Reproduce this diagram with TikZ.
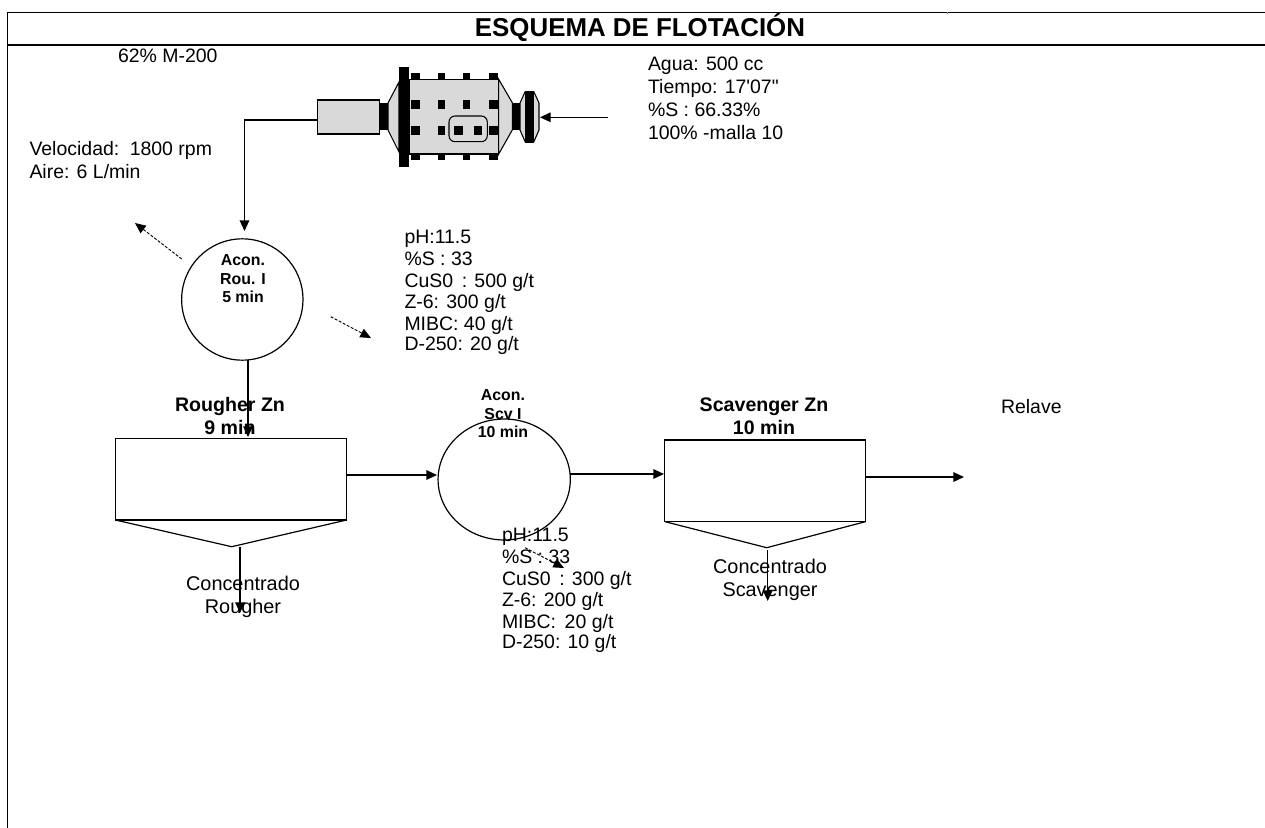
\documentclass[tikz,border=0pt]{standalone}
\usepackage{fontspec}
\setmainfont{Liberation Sans}
\newfontfamily\plainf{Liberation Sans}
\usetikzlibrary{arrows.meta,shapes.geometric}
\definecolor{millgray}{HTML}{D9D9D9}
\tikzset{
  flow/.style={draw=black,line width=1pt,-{Triangle[length=8pt,width=7.2pt]}},
  dashflow/.style={draw=black,line width=0.7pt,dash pattern=on 2.2pt off 1.2pt,-{Triangle[length=8pt,width=7pt]}},
  plain/.style={draw=black,line width=0.9pt},
  lbl/.style={inner sep=0pt,outer sep=0pt,anchor=north west,align=left,font=\fontsize{14.6pt}{16.4pt}\selectfont},
  lblq/.style={lbl,font=\fontsize{14.6pt}{17.2pt}\selectfont},
  lblc/.style={inner sep=0pt,outer sep=0pt,anchor=north,align=center,font=\fontsize{14.9pt}{17.2pt}\selectfont},
  lblb/.style={inner sep=0pt,outer sep=0pt,anchor=north,align=center,font=\fontsize{14.7pt}{17.2pt}\selectfont\bfseries},
  lbls/.style={inner sep=0pt,outer sep=0pt,anchor=north,align=center,font=\fontsize{11.9pt}{13.9pt}\selectfont\bfseries},
  tank/.style={draw=black,line width=0.95pt,fill=none,inner sep=0pt,outer sep=0pt},
  tankcirc/.style={draw=black,line width=0.9pt,ellipse,inner sep=0pt,outer sep=0pt},
  blk/.style={fill=black,draw=none},
  millpart/.style={fill=millgray,draw=black,line width=0.8pt},
}
\begin{document}
\begin{tikzpicture}[x=0.75pt,y=-0.75pt]
\useasboundingbox (0,0) rectangle (1265,828);
\fill[white] (0,0) rectangle (1265,828);
% frame
\draw[black,line width=0.9pt] (1265,12.3) -- (7.3,12.3) -- (7.3,828);
\draw[black,line width=2pt] (7.3,45) -- (1265,45);
\fill[gray] (946.5,11.5) rectangle (948,13.5);
\node[inner sep=0pt,anchor=center,font=\fontsize{19.4pt}{22pt}\selectfont\bfseries] (title) at (640,28) {ESQUEMA DE FLOTACIÓN};
% mill
\draw[millpart] (388,103) -- (399,82) -- (399,152) -- (388,130) -- cycle;
\draw[millpart] (409,79.3) rectangle (498.7,154);
\draw[millpart] (498.7,79.3) -- (512.3,102.7) -- (512.3,130) -- (498.7,154) -- cycle;
\node[millpart,minimum width=46.5pt,minimum height=25.5pt,inner sep=0pt,outer sep=0pt] (motor) at (348.7,117) {};
\fill[blk] (380,103) rectangle (388,130);
\fill[blk] (398.7,66.7) rectangle (409,166.7);
\fill[blk] (512.3,103) rectangle (520,130);
\draw[millpart] (520,103) -- (525,92) -- (534,92) -- (539,103) -- (539,130) -- (534,141.5) -- (525,141.5) -- (520,130) -- cycle;
\fill[blk] (525,91) rectangle (534,142.7);
\foreach \xa/\xb in {411/420,437.7/445,463/470,489/498}{
  \fill[blk] (\xa,73) rectangle (\xb,79.3);
  \fill[blk] (\xa,100) rectangle (\xb,108.7);
  \fill[blk] (\xa,126) rectangle (\xb,134.7);
  \fill[blk] (\xa,154) rectangle (\xb,160);
}
\fill[millgray] (449.7,116.7) rectangle (486.7,141);
\draw[black,line width=0.8pt,rounded corners=4.5pt] (449,116) rectangle (487.3,141.7);
\fill[blk] (454.3,126) rectangle (462.7,134.7);
\fill[blk] (474.3,126) rectangle (482.3,134.7);
\coordinate (feed) at (608,117.3);
\coordinate (millin) at (540,117.3);
\draw[flow] (feed) -- (millin);
% tanks
\node[tankcirc,minimum width=91pt,minimum height=91pt] (c1) at (242.3,299.5) {};
\node[tank,minimum width=173.6pt,minimum height=61pt] (r1) at (231,479.3) {};
\node[tankcirc,minimum width=99.2pt,minimum height=90.7pt] (c2) at (504.2,479.5) {};
\node[tank,minimum width=150.7pt,minimum height=61.2pt] (r2) at (765.2,480.8) {};
\coordinate (v1) at (231.7,546.7);
\coordinate (v2) at (766.7,547.7);
\draw[plain] (r1.south west) -- (v1) -- (r1.south east);
\draw[plain] (r2.south west) -- (v2) -- (r2.south east);
% connectors
\coordinate (c1in) at (244.5,231);
\draw[flow] (motor.west |- 0,120) -- (244.5,120) -- (c1in);
\coordinate (c1out) at (248,360);
\coordinate (r1in) at (248,437);
\draw[flow] (c1out) -- (r1in);
\coordinate (r1r) at (346.7,475);
\coordinate (c2l) at (437,475);
\draw[flow] (r1r) -- (c2l);
\coordinate (c2r) at (570.3,474);
\coordinate (r2l) at (664,474);
\draw[flow] (c2r) -- (r2l);
\coordinate (r2r) at (865.7,477);
\coordinate (out) at (964,477);
\draw[flow] (r2r) -- (out);
\coordinate (v1o) at (240,547);
\coordinate (v1e) at (240,613);
\draw[flow] (v1o) -- (v1e);
\coordinate (v2o) at (767.7,550);
\coordinate (v2e) at (767.7,601);
\draw[flow] (v2o) -- (v2e);
% dashed
\coordinate (d1a) at (181.7,259); \coordinate (d1b) at (135,223);
\draw[dashflow] (d1a) -- (d1b);
\coordinate (d2a) at (330.7,316.7); \coordinate (d2b) at (371,338);
\draw[dashflow] (d2a) -- (d2b);
\coordinate (d3a) at (525,547.7); \coordinate (d3b) at (564,568);
\draw[dashflow] (d3a) -- (d3b);
% labels
\node[lbl] (t62) at (118,49) {62\% M-200};
\node[lbl] (tvel) at (29.5,141) {Velocidad:\, 1800 rpm\\[1pt]Aire: 6 L/min};
\node[lblq] (tagua) at (648,57) {Agua: 500 cc\\{\plainf Tiempo: 17'07"}\\\%S : 66.33\%\\100\% -malla 10};
\node[lbl] (tph1) at (404.5,230) {pH:11.5\\\%S : 33\\CuS0\, : 500 g/t\\Z-6: 300 g/t\\MIBC: 40 g/t\\[-2pt]D-250: 20 g/t};
\node[lbl] (tph2) at (502,528) {pH:11.5\\\%S : 33\\CuS0\, : 300 g/t\\Z-6: 200 g/t\\MIBC:\, 20 g/t\\[-2pt]D-250: 10 g/t};
\node[lblb] (trou) at (230,397) {Rougher Zn\\9 min};
\node[lblb] (tsca) at (764,398) {Scavenger Zn\\10 min};
\node[lbls] (tac1) at (243,255) {Acon.\\Rou. I\\5 min};
\node[lbls] (tac2) at (503,390) {Acon.\\Scv I\\10 min};
\node[lblc] (tcr) at (243,576) {Concentrado\\Rougher};
\node[lblc] (tcs) at (770,559) {Concentrado\\Scavenger};
\node[lbl] (trel) at (1001,399) {Relave};
\end{tikzpicture}
\end{document}
